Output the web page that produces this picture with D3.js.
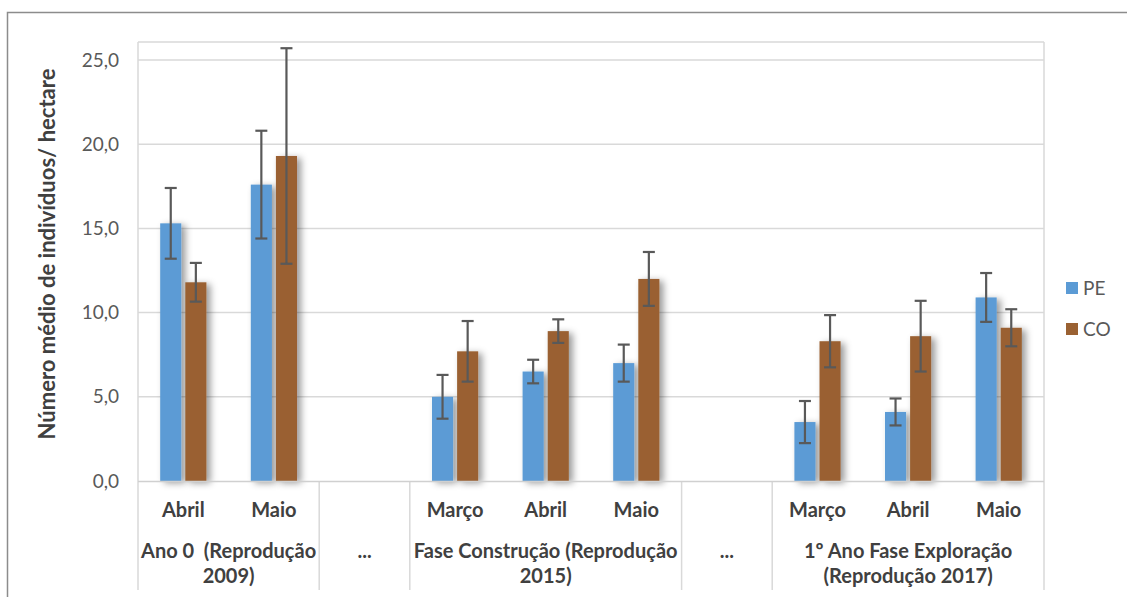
<!DOCTYPE html>
<html>
<head>
<meta charset="utf-8">
<script src="https://cdn.jsdelivr.net/npm/d3@7/dist/d3.min.js"></script>
<style>
  html, body { margin: 0; padding: 0; background: #ffffff; }
  svg { display: block; }
  text { font-family: Lato, "Open Sans", "DejaVu Sans", sans-serif; }
</style>
</head>
<body>
<svg id="chart" width="1127" height="597"></svg>
<script>
// Monthly slots along the x axis (null = spacer slot marked "...")
const slotLabels = ["Abril", "Maio", null, "Março", "Abril", "Maio", null, "Março", "Abril", "Maio"];

// Mean number of individuals per hectare, with error bar half-widths
const peValues = [15.3, 17.6, null, 5.0, 6.5, 7.0, null, 3.5, 4.1, 10.9];
const peErrors = [2.1, 3.2, null, 1.3, 0.7, 1.1, null, 1.25, 0.8, 1.45];
const coValues = [11.8, 19.3, null, 7.7, 8.9, 12.0, null, 8.3, 8.6, 9.1];
const coErrors = [1.15, 6.4, null, 1.8, 0.7, 1.6, null, 1.55, 2.1, 1.1];

// Outer category groups: how many slots each spans, and its label lines
const groupSizes = [2, 1, 3, 1, 3];
const groupLabels = [
  ["Ano 0\u00a0 (Reprodução", "2009)"],
  ["..."],
  ["Fase Construção (Reprodução", "2015)"],
  ["..."],
  ["1º Ano Fase Exploração", "(Reprodução 2017)"]
];

const seriesNames = ["PE", "CO"];
const seriesColors = ["#5b9bd5", "#9a6132"];
const yTicks = [0, 5, 10, 15, 20, 25];
const yTitle = "Número médio de indivíduos/ hectare";

const svg = d3.select("#chart");
const W = 1127, H = 597;
const plot = { left: 138, right: 1044, top: 42, bottom: 481, axisBottom: 590 };

// Drop shadow used under the bars
const defs = svg.append("defs");
const f = defs.append("filter").attr("id", "barShadow")
  .attr("x", "-40%").attr("y", "-10%").attr("width", "200%").attr("height", "130%");
f.append("feDropShadow").attr("dx", 4).attr("dy", 2).attr("stdDeviation", 3.5)
  .attr("flood-color", "#000").attr("flood-opacity", 0.4);

// Chart frame
svg.append("path")
  .attr("d", `M${W + 2},12.5 H7.5 V${H + 2}`)
  .attr("fill", "none").attr("stroke", "#8c8c8c").attr("stroke-width", 1.5);

const x = d3.scaleBand().domain(d3.range(slotLabels.length)).range([plot.left, plot.right]).padding(0);
const y = d3.scaleLinear().domain([0, 25]).range([plot.bottom, 60]);
const inner = d3.scaleBand().domain(seriesNames)
  .range([x.bandwidth() * 0.245, x.bandwidth() * 0.755]).paddingInner(0.16);

const gridColor = "#d9d9d9";

// Horizontal gridlines
svg.append("g").selectAll("line").data(yTicks.filter(t => t > 0)).join("line")
  .attr("x1", plot.left).attr("x2", plot.right)
  .attr("y1", d => y(d)).attr("y2", d => y(d))
  .attr("stroke", gridColor).attr("stroke-width", 1.5);

// Plot frame top edge
svg.append("line").attr("x1", plot.left).attr("x2", plot.right)
  .attr("y1", plot.top).attr("y2", plot.top)
  .attr("stroke", gridColor).attr("stroke-width", 1.5);

// Group separators (including the outer edges, which run up to the frame top)
const groupEdges = [0];
groupSizes.forEach(s => groupEdges.push(groupEdges[groupEdges.length - 1] + s));
svg.append("g").selectAll("line").data(groupEdges).join("line")
  .attr("x1", d => d < slotLabels.length ? x(d) : plot.right)
  .attr("x2", d => d < slotLabels.length ? x(d) : plot.right)
  .attr("y1", d => (d === 0 || d === slotLabels.length) ? plot.top : plot.bottom)
  .attr("y2", plot.axisBottom)
  .attr("stroke", gridColor).attr("stroke-width", 1.5);

// Y axis tick labels
const yAxis = d3.axisLeft(y).tickValues(yTicks).tickSize(0).tickPadding(19)
  .tickFormat(d => d3.format(".1f")(d).replace(".", ","));
const yg = svg.append("g").attr("transform", `translate(${plot.left},0)`).call(yAxis);
yg.select(".domain").remove();
yg.selectAll("text").attr("fill", "#595959").style("font-size", "19px")
  .style("font-family", "Lato, sans-serif");

// Y axis title
svg.append("text")
  .attr("transform", `translate(55,${(63 + 445) / 2}) rotate(-90)`)
  .attr("text-anchor", "middle")
  .attr("fill", "#404040").style("font-size", "22px").style("font-weight", "bold")
  .text(yTitle);

// Bars
const series = [
  { name: "PE", values: peValues, errors: peErrors, color: seriesColors[0] },
  { name: "CO", values: coValues, errors: coErrors, color: seriesColors[1] }
];
const bars = [];
series.forEach(s => s.values.forEach((v, i) => {
  if (v !== null) bars.push({ slot: i, name: s.name, value: v, err: s.errors[i], color: s.color });
}));

svg.append("g").selectAll("rect").data(bars).join("rect")
  .attr("x", d => x(d.slot) + inner(d.name))
  .attr("width", inner.bandwidth())
  .attr("y", d => y(d.value))
  .attr("height", d => y(0) - y(d.value))
  .attr("fill", d => d.color)
  .attr("filter", "url(#barShadow)");

// X axis baseline
svg.append("line").attr("x1", plot.left).attr("x2", plot.right)
  .attr("y1", plot.bottom + 0.5).attr("y2", plot.bottom + 0.5)
  .attr("stroke", "#d0d0d0").attr("stroke-width", 1.5);

// Error bars
const eb = svg.append("g").attr("stroke", "#595959").attr("stroke-width", 2.2);
bars.forEach(d => {
  const cx = x(d.slot) + inner(d.name) + inner.bandwidth() / 2;
  const y1 = y(d.value + d.err), y2 = y(d.value - d.err);
  eb.append("line").attr("x1", cx).attr("x2", cx).attr("y1", y1).attr("y2", y2);
  eb.append("line").attr("x1", cx - 6).attr("x2", cx + 6).attr("y1", y1).attr("y2", y1);
  eb.append("line").attr("x1", cx - 6).attr("x2", cx + 6).attr("y1", y2).attr("y2", y2);
});

// Month labels
svg.append("g").selectAll("text").data(slotLabels.map((l, i) => ({ l, i })).filter(d => d.l))
  .join("text")
  .attr("x", d => x(d.i) + x.bandwidth() / 2)
  .attr("y", 517)
  .attr("text-anchor", "middle")
  .attr("fill", "#404040").style("font-size", "20px").style("font-weight", "bold")
  .text(d => d.l);

// Group labels
groupLabels.forEach((lines, g) => {
  const cx = (x(groupEdges[g]) + (groupEdges[g + 1] < slotLabels.length ? x(groupEdges[g + 1]) : plot.right)) / 2;
  lines.forEach((line, k) => {
    svg.append("text")
      .attr("x", cx).attr("y", 558 + k * 25)
      .attr("text-anchor", "middle")
      .attr("fill", "#404040").style("font-size", "20px").style("font-weight", "bold")
      .text(line);
  });
});

// Legend
const lg = svg.append("g").attr("transform", "translate(1066,0)");
seriesNames.forEach((n, i) => {
  const cy = 288 + i * 41;
  lg.append("rect").attr("x", 0).attr("y", cy - 6).attr("width", 12).attr("height", 12)
    .attr("fill", seriesColors[i]);
  lg.append("text").attr("x", 17).attr("y", cy + 7)
    .attr("fill", "#595959").style("font-size", "19px").text(n);
});
</script>
</body>
</html>
